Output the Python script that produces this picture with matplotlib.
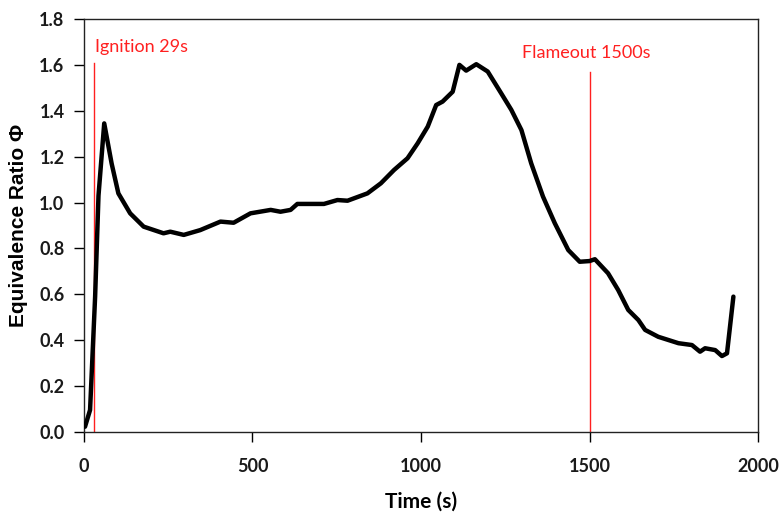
import matplotlib
matplotlib.use("Agg")
import matplotlib.pyplot as plt

time_s = [3, 18, 33, 43, 60, 82, 102, 137, 177, 236, 256, 296, 345, 405, 444, 494, 554, 583,
          613, 633, 712, 752, 782, 841, 881, 920, 960, 990, 1020, 1045, 1064, 1094, 1114, 1134,
          1164, 1198, 1238, 1268, 1298, 1327, 1362, 1397, 1437, 1471, 1500, 1516, 1555, 1585,
          1615, 1645, 1665, 1704, 1764, 1804, 1828, 1843, 1873, 1893, 1908, 1927]
phi = [0.023, 0.096, 0.59, 1.03, 1.345, 1.17, 1.04, 0.953, 0.895, 0.866, 0.873, 0.859, 0.88,
       0.917, 0.912, 0.953, 0.968, 0.96, 0.968, 0.994, 0.994, 1.011, 1.008, 1.04, 1.084, 1.142,
       1.193, 1.258, 1.331, 1.425, 1.44, 1.483, 1.6, 1.575, 1.603, 1.571, 1.476, 1.404, 1.316,
       1.171, 1.026, 0.91, 0.793, 0.742, 0.745, 0.753, 0.692, 0.619, 0.532, 0.488, 0.445, 0.415,
       0.387, 0.379, 0.35, 0.365, 0.357, 0.331, 0.343, 0.59]

events_t = [29, 1500]
events_top = [1.61, 1.57]
event_labels = ["Ignition 29s", "Flameout 1500s"]
x_ticks = [0, 500, 1000, 1500, 2000]
y_ticks = [0.0, 0.2, 0.4, 0.6, 0.8, 1.0, 1.2, 1.4, 1.6, 1.8]

plt.rcParams['font.family'] = ['Lato', 'DejaVu Sans']

fig = plt.figure(figsize=(7.82, 5.21), dpi=100)
ax = fig.add_axes([84/782, 1 - 432/521, (758 - 84)/782, (432 - 19)/521])

ax.plot(time_s, phi, color='black', lw=3.2, solid_capstyle='round', solid_joinstyle='round', zorder=3)
for t, top in zip(events_t, events_top):
    ax.plot([t, t], [0, top], color='#ff2020', lw=1.0, zorder=2)
ax.text(33, 1.68, event_labels[0], color='#ff2020', fontsize=13, ha='left', va='center')
ax.text(1300, 1.65, event_labels[1], color='#ff2020', fontsize=13, ha='left', va='center')

ax.set_xlim(0, 2000)
ax.set_ylim(0, 1.8)
ax.set_xticks(x_ticks)
ax.set_yticks(y_ticks)
ax.set_yticklabels([f"{v:.1f}" for v in y_ticks])
ax.tick_params(direction='out', length=7, width=1, labelsize=13, colors='black', pad=7)
ax.tick_params(axis='x', pad=12)
for lab in ax.get_xticklabels() + ax.get_yticklabels():
    lab.set_fontweight('bold')
    lab.set_color('#1a1a1a')
for s in ax.spines.values():
    s.set_linewidth(1.0)
    s.set_color('#222222')
ax.set_xlabel("Time (s)", fontsize=15, fontweight='bold', labelpad=12)
ax.set_ylabel("Equivalence Ratio \u03a6", fontsize=15, fontweight='bold', labelpad=8,
              family=['Liberation Sans', 'DejaVu Sans'])

fig.savefig("out.png", dpi=100)
